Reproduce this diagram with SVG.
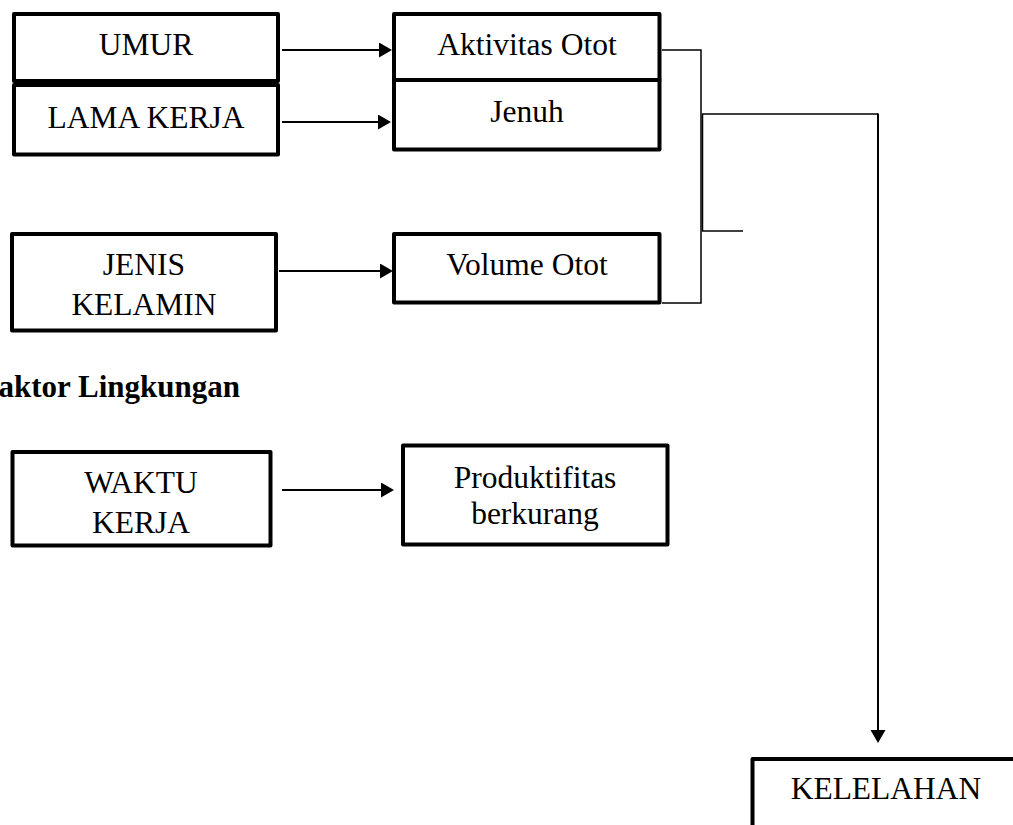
<svg xmlns="http://www.w3.org/2000/svg" width="1013" height="825" viewBox="0 0 1013 825">
<style>
.box{fill:#fff;stroke:#000;stroke-width:4;stroke-linejoin:round}
.t{font-family:"Liberation Serif","Times New Roman",serif;font-size:31.5px;fill:#000;text-anchor:middle}
.b{font-family:"Liberation Serif","Times New Roman",serif;font-size:31px;font-weight:bold;fill:#000;text-anchor:end}
.arr{fill:none;stroke:#000;stroke-width:2;marker-end:url(#ah)}
.thin{fill:none;stroke:#000;stroke-width:1.5}
</style>
<defs>
<marker id="ah" markerUnits="userSpaceOnUse" markerWidth="14" markerHeight="16" refX="7" refY="7.5" orient="auto">
<path d="M0,0 L13,7.5 L0,15 Z" fill="#000"/>
</marker>
<clipPath id="clipProd"><rect x="380" y="430" width="300" height="101"/></clipPath>
</defs>
<rect width="1013" height="825" fill="#fff"/>

<g id="connectors">
<line class="arr" x1="282" y1="50" x2="386" y2="50"/>
<line class="arr" x1="282" y1="122" x2="385" y2="122"/>
<line class="arr" x1="279" y1="271" x2="387" y2="271"/>
<line class="arr" x1="282" y1="490" x2="388" y2="490"/>
<polyline class="thin" points="662,50 701,50 701,303 662,303"/>
<line class="thin" x1="702.5" y1="114" x2="702.5" y2="231"/>
<line class="thin" x1="702" y1="231" x2="743" y2="231"/>
<line class="thin" x1="702" y1="114" x2="878" y2="114"/>
<line class="arr" x1="878" y1="113.5" x2="878" y2="737"/>
</g>

<g id="node-umur">
<rect class="box" x="14" y="14" width="264" height="67"/>
<text class="t" x="146" y="55">UMUR</text>
</g>
<g id="node-lama-kerja">
<rect class="box" x="14" y="85" width="264" height="69.5"/>
<text class="t" x="146" y="128">LAMA KERJA</text>
</g>
<g id="node-aktivitas-otot">
<rect class="box" x="394" y="14" width="265.5" height="66"/>
<text class="t" x="527" y="55">Aktivitas Otot</text>
</g>
<g id="node-jenuh">
<rect class="box" x="394" y="80" width="265.5" height="69.5"/>
<text class="t" x="527" y="122">Jenuh</text>
</g>
<g id="node-jenis-kelamin">
<rect class="box" x="12" y="234" width="264" height="96.5"/>
<text class="t" x="144" y="275">JENIS</text>
<text class="t" x="144" y="315">KELAMIN</text>
</g>
<g id="node-volume-otot">
<rect class="box" x="394" y="234" width="265.5" height="68.5"/>
<text class="t" x="527" y="275">Volume Otot</text>
</g>
<g id="label-faktor-lingkungan">
<text class="b" x="240" y="397">aktor Lingkungan</text>
</g>
<g id="node-waktu-kerja">
<rect class="box" x="12.5" y="452" width="258" height="93.5"/>
<text class="t" x="141" y="493">WAKTU</text>
<text class="t" x="141" y="533">KERJA</text>
</g>
<g id="node-produktifitas">
<rect class="box" x="403" y="445.5" width="264.5" height="99"/>
<text class="t" x="535" y="488">Produktifitas</text>
<text class="t" x="535" y="523.5" clip-path="url(#clipProd)">berkurang</text>
</g>
<g id="node-kelelahan">
<rect class="box" x="752.5" y="759" width="300" height="100"/>
<text class="t" x="886" y="799">KELELAHAN</text>
</g>
</svg>
